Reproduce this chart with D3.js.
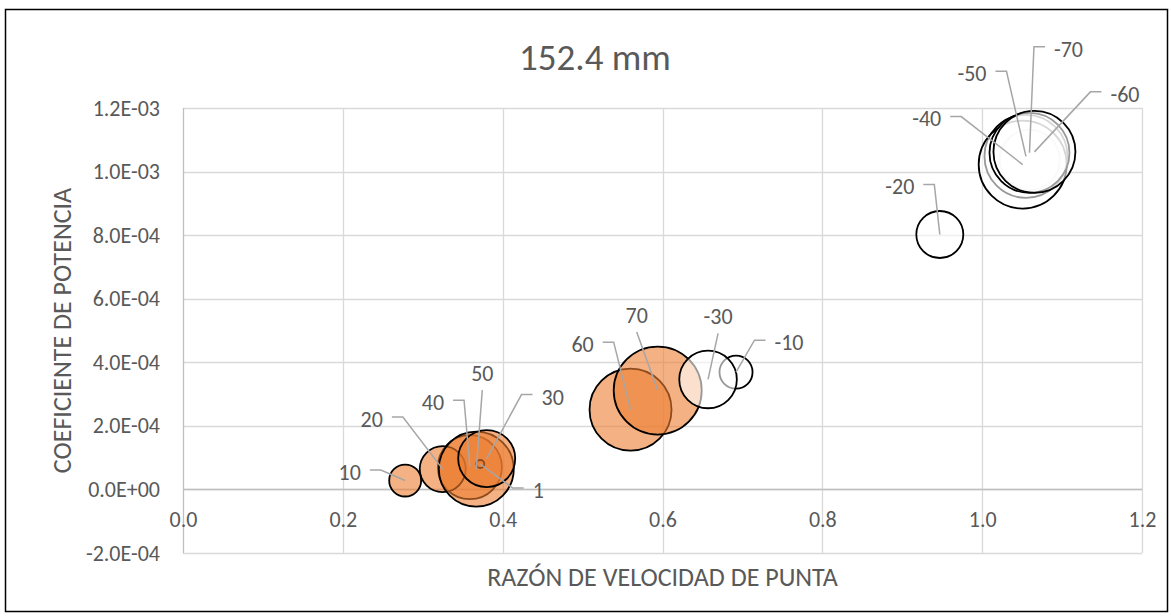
<!DOCTYPE html>
<html>
<head>
<meta charset="utf-8">
<script src="https://cdn.jsdelivr.net/npm/d3@7"></script>
<style>
  html, body { margin: 0; padding: 0; background: #fff; }
  svg { display: block; font-family: Carlito, Calibri, Lato, sans-serif; }
</style>
</head>
<body>
<svg id="chart" width="1171" height="616"></svg>
<script>
// Positive pitch angles (orange bubbles), in drawing order
const posLabels = ["40", "20", "10", "50", "1", "30", "60", "70"];
const posTSR    = [0.359, 0.325, 0.278, 0.367, 0.372, 0.380, 0.560, 0.594];
const posCp     = [7.0e-5, 6.4e-5, 2.8e-5, 6.4e-5, 8.0e-5, 9.7e-5, 2.51e-4, 3.11e-4];
const posSize   = [52.9, 27.3, 13.2, 72.6, 0.83, 42.0, 86.8, 100];

// Negative pitch angles (white bubbles), in drawing order
const negLabels = ["", "-50", "-40", "-70", "-60", "-20", "-10", "-30"];
const negTSR    = [1.0595, 1.0548, 1.0507, 1.0592, 1.0654, 0.947, 0.692, 0.657];
const negCp     = [1.037e-3, 1.048e-3, 1.022e-3, 1.059e-3, 1.062e-3, 8.02e-4, 3.69e-4, 3.46e-4];
const negSize   = [46.5, 89.0, 100, 82.6, 86.8, 28.5, 14.1, 42.8];

// Axis ticks
const xTicks = [0, 0.2, 0.4, 0.6, 0.8, 1.0, 1.2];
const yTicks = [-2e-4, 0, 2e-4, 4e-4, 6e-4, 8e-4, 1.0e-3, 1.2e-3];

const title = "152.4 mm";
const xTitle = "RAZÓN DE VELOCIDAD DE PUNTA";
const yTitle = "COEFICIENTE DE POTENCIA";

// Data label placement: text offset from bubble centre and side the leader leaves from
const labelLayout = {
  "10":  { dx: -55.5, dy: -8.5,  side: "right" },
  "20":  { dx: -71,   dy: -50,   side: "right" },
  "40":  { dx: -37,   dy: -65,   side: "right" },
  "50":  { dx: 6,     dy: -96,   side: "bottom" },
  "30":  { dx: 66,    dy: -62,   side: "left" },
  "1":   { dx: 58,    dy: 26,    side: "left" },
  "60":  { dx: -48,   dy: -65.5, side: "right" },
  "70":  { dx: -21,   dy: -75.5, side: "bottom" },
  "-30": { dx: 10,    dy: -63,   side: "bottom" },
  "-10": { dx: 53,    dy: -30,   side: "left" },
  "-20": { dx: -40,   dy: -48,   side: "right" },
  "-40": { dx: -96,   dy: -46,   side: "right" },
  "-50": { dx: -54,   dy: -83,   side: "right" },
  "-70": { dx: 39,    dy: -104,  side: "left" },
  "-60": { dx: 90.5,  dy: -58,   side: "left" }
};

const svg = d3.select("#chart");
const textColor = "#595959";
const font = "Carlito, Calibri, Lato, sans-serif";

const plot = { left: 183, right: 1142, top: 108, bottom: 553 };
const x = d3.scaleLinear().domain([0, 1.2]).range([plot.left, plot.right]);
const y = d3.scaleLinear().domain([-2e-4, 1.2e-3]).range([plot.bottom, plot.top]);
const r = d3.scaleSqrt().domain([0, 100]).range([0, 44]);

// Chart frame
svg.append("rect")
  .attr("x", 5.5).attr("y", 9.5).attr("width", 1162).attr("height", 602)
  .attr("fill", "#fff").attr("stroke", "#000").attr("stroke-width", 1.5);

// Gridlines
const grid = svg.append("g");
grid.selectAll("line.h").data(yTicks).join("line")
  .attr("x1", plot.left).attr("x2", plot.right)
  .attr("y1", d => Math.round(y(d)) + 0.5).attr("y2", d => Math.round(y(d)) + 0.5)
  .attr("stroke", "#d9d9d9").attr("stroke-width", 1.3);
grid.selectAll("line.v").data(xTicks.slice(1)).join("line")
  .attr("y1", plot.top).attr("y2", plot.bottom)
  .attr("x1", d => Math.round(x(d)) + 0.5).attr("x2", d => Math.round(x(d)) + 0.5)
  .attr("stroke", "#d9d9d9").attr("stroke-width", 1.3);

// Axis lines
svg.append("line")
  .attr("x1", plot.left).attr("x2", plot.right)
  .attr("y1", Math.round(y(0)) + 0.5).attr("y2", Math.round(y(0)) + 0.5)
  .attr("stroke", "#bfbfbf").attr("stroke-width", 1.3);
svg.append("line")
  .attr("x1", plot.left + 0.5).attr("x2", plot.left + 0.5)
  .attr("y1", plot.top).attr("y2", plot.bottom)
  .attr("stroke", "#bfbfbf").attr("stroke-width", 1.3);

// Scientific tick format like 1.2E-03
function sci(v) {
  const [m, e] = v.toExponential(1).split("e");
  const n = parseInt(e, 10);
  const sign = n < 0 ? "-" : "+";
  return m + "E" + sign + String(Math.abs(n)).padStart(2, "0");
}

const yAxis = svg.append("g")
  .attr("transform", `translate(${plot.left},0)`)
  .call(d3.axisLeft(y).tickValues(yTicks).tickFormat(sci).tickSize(0).tickPadding(23));
const xAxis = svg.append("g")
  .attr("transform", `translate(0,${y(0)})`)
  .call(d3.axisBottom(x).tickValues(xTicks).tickFormat(d3.format(".1f")).tickSize(0).tickPadding(22));
[xAxis, yAxis].forEach(a => {
  a.select(".domain").remove();
  a.selectAll("text").attr("fill", textColor).style("font-size", "22px")
    .style("font-family", font);
});

// Titles
svg.append("text")
  .attr("x", 595).attr("y", 70)
  .attr("text-anchor", "middle").attr("fill", textColor)
  .style("font-size", "37px").text(title);
svg.append("text")
  .attr("x", (plot.left + plot.right) / 2).attr("y", 586)
  .attr("text-anchor", "middle").attr("fill", textColor)
  .style("font-size", "26px").text(xTitle);
svg.append("text")
  .attr("transform", `translate(71,${(plot.top + plot.bottom) / 2}) rotate(-90)`)
  .attr("text-anchor", "middle").attr("fill", textColor)
  .style("font-size", "26px").text(yTitle);

// Bubbles
const pos = posLabels.map((l, i) => ({ label: l, tsr: posTSR[i], cp: posCp[i], size: posSize[i], fill: "rgba(237,125,49,0.6)" }));
const neg = negLabels.map((l, i) => ({ label: l, tsr: negTSR[i], cp: negCp[i], size: negSize[i], fill: "rgba(255,255,255,0.6)" }));
const all = pos.concat(neg);

svg.append("g").selectAll("circle").data(all).join("circle")
  .attr("cx", d => x(d.tsr)).attr("cy", d => y(d.cp)).attr("r", d => r(d.size))
  .attr("fill", d => d.fill).attr("stroke", "#000").attr("stroke-width", 1.8);

// Data labels with leader lines
const labelled = all.filter(d => d.label !== "");
const leaders = svg.append("g");
const labels = svg.append("g");
labelled.forEach(d => {
  const cx = x(d.tsr), cy = y(d.cp);
  const L = labelLayout[d.label];
  const tx = cx + L.dx, ty = cy + L.dy;
  const t = labels.append("text")
    .attr("x", tx).attr("y", ty).attr("dy", "0.36em")
    .attr("text-anchor", "middle").attr("fill", textColor)
    .style("font-size", "22px").text(d.label);
  const w = t.node().getComputedTextLength();
  let pts;
  if (L.side === "right") {
    const sx = tx + w / 2 + 9;
    pts = [[sx, ty - 2], [sx + 11, ty - 2], [cx, cy]];
  } else if (L.side === "left") {
    const sx = tx - w / 2 - 9;
    pts = [[sx, ty - 2], [sx - 11, ty - 2], [cx, cy]];
  } else {
    pts = [[tx, ty + 17], [cx, cy]];
  }
  leaders.append("path")
    .attr("d", d3.line()(pts))
    .attr("fill", "none").attr("stroke", "#a6a6a6").attr("stroke-width", 1.5);
});
</script>
</body>
</html>
